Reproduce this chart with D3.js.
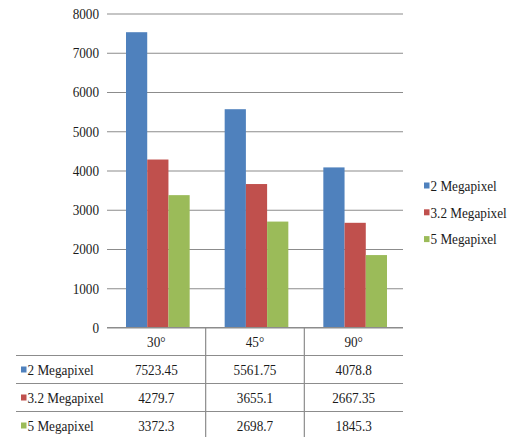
<!DOCTYPE html>
<html>
<head>
<meta charset="utf-8">
<script src="https://cdn.jsdelivr.net/npm/d3@7"></script>
<style>
  body { margin: 0; background: #fff; }
  svg { display: block; }
  svg text { font-family: "Liberation Serif", "Times New Roman", Times, "DejaVu Serif", serif; fill: #1a1a1a; }
</style>
</head>
<body>
<svg id="chart" width="516" height="437"></svg>
<script>
// chart data
const categories = ['30°', '45°', '90°'];
const seriesNames = ['2 Megapixel', '3.2 Megapixel', '5 Megapixel'];
const values2mp = [7523.45, 5561.75, 4078.8];
const values32mp = [4279.7, 3655.1, 2667.35];
const values5mp = [3372.3, 2698.7, 1845.3];
const yTicks = [0, 1000, 2000, 3000, 4000, 5000, 6000, 7000, 8000];

const colors = ['#4f81bd', '#c0504d', '#9bbb59'];
const series = [values2mp, values32mp, values5mp];

const svg = d3.select('#chart');

const plotLeft = 107, plotRight = 403, plotTop = 13.5, plotBottom = 327.5;
const gridColor = '#8c8c8c';
const fontSize = 15, squeeze = 0.88;

// text is a bit condensed in the original, squash it horizontally
function label(parent, x, y, str, anchor) {
    return parent.append('text')
        .attr('transform', `translate(${x},${y}) scale(${squeeze},1)`)
        .attr('text-anchor', anchor || 'start')
        .attr('dominant-baseline', 'central')
        .attr('font-size', fontSize)
        .text(str);
}

const yScale = d3.scaleLinear()
    .domain([0, 8000])
    .range([plotBottom, plotTop]);

const x0 = d3.scaleBand()
    .domain(categories)
    .range([plotLeft, plotRight]);

const x1 = d3.scaleBand()
    .domain(seriesNames)
    .range([19, x0.bandwidth() - 16]);

// gridlines
const yAxis = svg.append('g')
    .attr('transform', `translate(${plotLeft},0)`)
    .call(d3.axisLeft(yScale).tickValues(yTicks).tickSize(-(plotRight - plotLeft)).tickFormat(''));
yAxis.select('.domain').remove();
yAxis.selectAll('line').attr('stroke', gridColor).attr('stroke-width', 1.2);

// tick labels
const tickG = svg.append('g');
yTicks.forEach(t => label(tickG, 99, yScale(t), d3.format('d')(t), 'end'));

// bars
const groups = svg.append('g')
    .selectAll('g')
    .data(categories)
    .join('g')
    .attr('transform', d => `translate(${x0(d)},0)`);

groups.selectAll('rect')
    .data((c, i) => series.map((s, j) => ({ name: seriesNames[j], value: s[i], color: colors[j] })))
    .join('rect')
    .attr('x', d => x1(d.name))
    .attr('width', x1.bandwidth())
    .attr('y', d => yScale(d.value))
    .attr('height', d => yScale(0) - yScale(d.value))
    .attr('fill', d => d.color);

// data table under the chart
const rowH = 28;
const table = svg.append('g');

table.append('line')
    .attr('x1', plotLeft).attr('x2', plotRight)
    .attr('y1', plotBottom).attr('y2', plotBottom)
    .attr('stroke', gridColor).attr('stroke-width', 1.2);

[1, 2, 3].forEach(r => {
    table.append('line')
        .attr('x1', 16).attr('x2', plotRight)
        .attr('y1', plotBottom + rowH * r).attr('y2', plotBottom + rowH * r)
        .attr('stroke', gridColor).attr('stroke-width', 1.2);
});

categories.slice(1).forEach(c => {
    table.append('line')
        .attr('x1', x0(c)).attr('x2', x0(c))
        .attr('y1', plotBottom).attr('y2', 437)
        .attr('stroke', gridColor).attr('stroke-width', 1.2);
});

categories.forEach(c => {
    label(table, x0(c) + x0.bandwidth() / 2, plotBottom + rowH / 2, c, 'middle');
});

seriesNames.forEach((name, j) => {
    const cy = plotBottom + rowH * (j + 1) + rowH / 2;
    table.append('rect')
        .attr('x', 21).attr('y', cy - 3)
        .attr('width', 5.5).attr('height', 6)
        .attr('fill', colors[j]);
    label(table, 27.5, cy, name);
    series[j].forEach((v, i) => {
        label(table, x0(categories[i]) + x0.bandwidth() / 2, cy, v, 'middle');
    });
});

// legend
const legend = svg.append('g');
seriesNames.forEach((name, j) => {
    const ly = 185.5 + j * 26.8;
    legend.append('rect')
        .attr('x', 424).attr('y', ly - 3)
        .attr('width', 5.5).attr('height', 6)
        .attr('fill', colors[j]);
    label(legend, 430.5, ly, name);
});
</script>
</body>
</html>
